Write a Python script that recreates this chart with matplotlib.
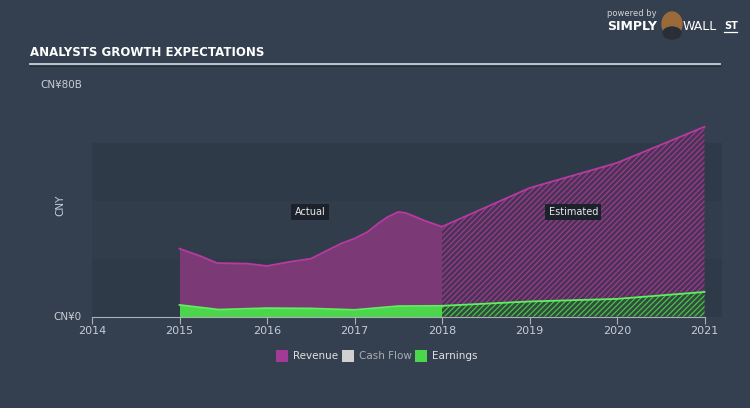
import numpy as np
import matplotlib
matplotlib.use("Agg")
import matplotlib.pyplot as plt
from matplotlib.patches import Rectangle, Ellipse

# actual data (years, CNY billions)
actual_years = [2015.0, 2015.24, 2015.43, 2015.78, 2016.0, 2016.27, 2016.5, 2016.73, 2016.85,
                2017.0, 2017.15, 2017.27, 2017.38, 2017.5, 2017.58, 2017.65, 2017.8, 2018.0]
actual_revenue = [23.5, 20.9, 18.5, 18.3, 17.5, 19.0, 20.0, 23.5, 25.3,
                  27.0, 29.3, 32.2, 34.5, 36.2, 35.9, 35.1, 33.2, 31.1]
actual_earn_years = [2015.0, 2015.45, 2016.0, 2016.5, 2017.0, 2017.5, 2018.0]
actual_earnings = [4.0, 2.4, 2.9, 2.8, 2.3, 3.6, 3.7]

# analyst estimates
est_years = [2018.0, 2019.0, 2020.0, 2021.0]
est_revenue = [31.1, 44.5, 53.2, 65.7]
est_earnings = [3.7, 5.2, 6.1, 8.5]

year_ticks = [2014, 2015, 2016, 2017, 2018, 2019, 2020, 2021]
legend_labels = ["Revenue", "Cash Flow", "Earnings"]

BG = "#34404f"
BAND = "#2e3a48"
REV_FILL = "#7b3a76"
REV_LINE = "#b83aa0"
EARN_FILL = "#4cd64c"
EARN_LINE = "#5ef05e"
CASH = "#d0d0d0"
TXT = "#c8ccd2"

plt.rcParams["hatch.linewidth"] = 0.9

fig = plt.figure(figsize=(7.5, 4.08), dpi=100, facecolor=BG)
ax = fig.add_axes([92 / 750, 1 - 316.5 / 408, 630 / 750, 231 / 408])
ax.set_facecolor(BG)
ax.set_xlim(2014, 2021.2)
ax.set_ylim(0, 80)

# background bands
for lo in (0, 40):
    ax.add_patch(Rectangle((2014, lo), 7.2, 20, facecolor=BAND, edgecolor="none", zorder=0))
ax.add_patch(Rectangle((2014, 20), 7.2, 20, facecolor="#313d4b", edgecolor="none", zorder=0))

# actual
ax.fill_between(actual_years, actual_revenue, color=REV_FILL, lw=0, zorder=2)
ax.plot(actual_years, actual_revenue, color=REV_LINE, lw=1.3, zorder=3)
ax.fill_between(actual_earn_years, actual_earnings, color=EARN_FILL, lw=0, zorder=4)
ax.plot(actual_earn_years, actual_earnings, color=EARN_LINE, lw=1.3, zorder=5)

# estimated (hatched)
ax.fill_between(est_years, est_revenue, facecolor="#4a3354", edgecolor="#9a3c90",
                hatch="//////", lw=0, zorder=2)
ax.plot(est_years, est_revenue, color=REV_LINE, lw=1.3, zorder=3)
ax.fill_between(est_years, est_earnings, facecolor="#2f4c3c", edgecolor="#4cc04c",
                hatch="//////", lw=0, zorder=4)
ax.plot(est_years, est_earnings, color=EARN_LINE, lw=1.3, zorder=5)

# Actual / Estimated labels
box = dict(boxstyle="square,pad=0.35", facecolor="#1c222c", edgecolor="none")
ax.text(2016.49, 36.2, "Actual", color="#e8e8e8", fontsize=7, ha="center", va="center", bbox=box, zorder=6)
ax.text(2019.5, 36.2, "Estimated", color="#e8e8e8", fontsize=7, ha="center", va="center", bbox=box, zorder=6)

# axes styling
for s in ("top", "right", "left"):
    ax.spines[s].set_visible(False)
ax.spines["bottom"].set_color("#a8b0b8")
ax.spines["bottom"].set_bounds(2014, 2021)
ax.spines["bottom"].set_zorder(7)
ax.set_xticks(year_ticks)
ax.set_xticklabels([str(y) for y in year_ticks])
ax.tick_params(axis="x", colors="#a8b0b8", labelcolor=TXT, labelsize=8, length=5, pad=2)
ax.set_yticks([])

ax.text(-0.016, 80, "CN¥80B", transform=ax.get_yaxis_transform(), ha="right", va="center",
        color=TXT, fontsize=7.5)
ax.text(-0.016, 0, "CN¥0", transform=ax.get_yaxis_transform(), ha="right", va="center",
        color=TXT, fontsize=7.5)
fig.text(60 / 750, 1 - 205 / 408, "CNY", rotation=90, ha="center", va="center", color=TXT, fontsize=7.5)

# title and rule
fig.text(30 / 750, 1 - 53 / 408, "ANALYSTS GROWTH EXPECTATIONS", ha="left", va="center",
         color="white", fontsize=8.5, fontweight="bold",
         family=["DejaVu Sans Condensed", "Liberation Sans Narrow", "DejaVu Sans"])
fig.add_artist(plt.Line2D([30 / 750, 720 / 750], [1 - 64 / 408] * 2, color="#c8d0d8", lw=1.3))
fig.add_artist(plt.Line2D([30 / 750, 720 / 750], [1 - 65.5 / 408] * 2, color="#232c38", lw=0.8))

# logo
fig.text(607 / 750, 1 - 14 / 408, "powered by", color="#d0d4d8", fontsize=6, ha="left", va="center")
fig.text(607 / 750, 1 - 27 / 408, "SIMPLY", color="white", fontsize=9, fontweight="bold", ha="left", va="center")
fig.add_artist(Ellipse((672 / 750, 1 - 24 / 408), 20 / 750, 24 / 408,
                       color="#9a6a3a", transform=fig.transFigure))
fig.add_artist(Ellipse((672 / 750, 1 - 33 / 408), 18 / 750, 12 / 408,
                       color="#2a2e36", transform=fig.transFigure))
fig.text(683 / 750, 1 - 27 / 408, "WALL", color="white", fontsize=9, ha="left", va="center")
fig.text(724 / 750, 1 - 26 / 408, "ST", color="white", fontsize=7, fontweight="bold", ha="left", va="center")
fig.add_artist(plt.Line2D([724 / 750, 737 / 750], [1 - 32 / 408] * 2, color="white", lw=0.9))

# legend
legend_colors = ["#a23a96", CASH, EARN_FILL]
legend_x = [276, 342, 415]
legend_tc = ["#e0e0e0", "#a8adb4", "#e0e0e0"]
for lbl, c, x, tc in zip(legend_labels, legend_colors, legend_x, legend_tc):
    fig.add_artist(Rectangle((x / 750, 1 - 362 / 408), 12 / 750, 12 / 408, facecolor=c,
                             edgecolor="none", transform=fig.transFigure))
    fig.text((x + 17) / 750, 1 - 356 / 408, lbl, color=tc, fontsize=7.5, ha="left", va="center")

fig.savefig("out.png", dpi=100, facecolor=BG)
